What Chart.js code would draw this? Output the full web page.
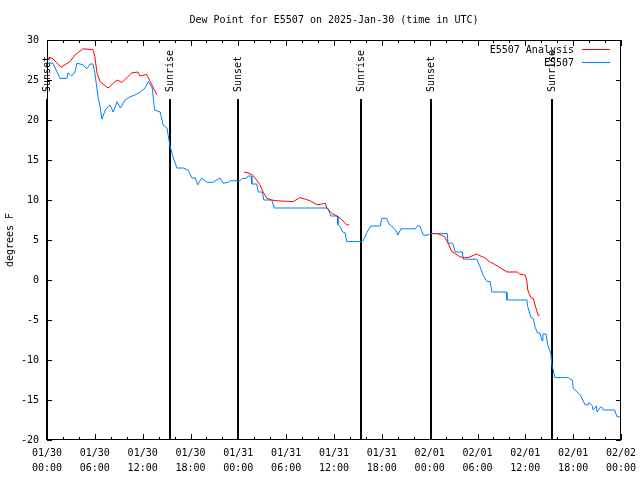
<!DOCTYPE html>
<html>
<head>
<meta charset="utf-8">
<title>Dew Point for E5507</title>
<script src="https://cdn.jsdelivr.net/npm/chart.js@4"></script>
<style>
  html, body { margin: 0; padding: 0; background: #fff; }
  canvas { display: block; }
</style>
</head>
<body>
<canvas id="dewpoint-chart" width="640" height="480"></canvas>
<script>
// hours since 01/30 00:00 UTC
const blueHours = [0, 0.75, 1.63, 2.5, 2.63, 3.1, 3.5, 3.76, 4.5, 5.0, 5.4, 5.77, 6.0, 6.4, 6.65, 6.9, 7.3, 7.9, 8.3, 8.8,
  9.2, 9.8, 10.4, 11.0, 11.7, 12.3, 12.7, 13.2, 13.5, 14.2, 14.55, 15.05, 15.4, 15.8, 16.3, 17.1, 17.7, 18.2, 18.6, 18.9,
  19.4, 20.1, 20.8, 21.7, 22.1, 22.7, 22.95, 24.2, 24.5, 25.0, 25.2, 25.6, 25.7, 26.3, 26.5, 27.0, 27.2, 28.2, 28.5, 35.2,
  35.6, 36.4, 36.5, 36.75, 37.1, 37.4, 37.6, 39.6, 39.9, 40.1, 40.6, 41.8, 42.0, 42.6, 42.9, 43.4, 43.9, 44.0, 44.4, 46.2,
  46.5, 46.8, 47.2, 47.8, 48.0, 50.2, 50.3, 50.9, 51.2, 52.1, 52.2, 53.9, 54.3, 54.7, 55.2, 55.6, 55.8, 57.6, 57.7, 60.2,
  60.3, 60.7, 61.0, 61.2, 61.5, 61.8, 62.1, 62.2, 62.6, 62.8, 63.2, 63.35, 63.5, 63.7, 65.4, 65.6, 65.9, 66.0, 66.5, 66.9,
  67.1, 67.5, 67.9, 68.0, 68.4, 68.5, 68.9, 69.0, 69.4, 69.6, 69.8, 71.2, 71.5, 72.0];
const blueValues = [27.1, 27.1, 25.2, 25.2, 25.9, 25.5, 26.0, 27.1, 26.9, 26.4, 27.0, 27.0, 25.9, 22.9, 21.7, 20.1, 21.25, 21.9, 21.0, 22.3,
  21.5, 22.5, 22.9, 23.1, 23.5, 24.0, 24.8, 24.0, 21.25, 21.0, 19.4, 19.0, 16.9, 15.4, 14.0, 14.0, 13.75, 12.75, 12.75, 11.9,
  12.75, 12.2, 12.2, 12.75, 12.1, 12.2, 12.4, 12.4, 12.7, 12.7, 13.0, 13.0, 12.0, 12.0, 11.0, 11.0, 10.0, 10.0, 9.0, 9.0,
  8.0, 8.0, 6.9, 6.7, 6.0, 5.9, 4.8, 4.8, 5.4, 5.9, 6.75, 6.75, 7.7, 7.7, 7.0, 6.6, 6.0, 5.6, 6.4, 6.4,
  6.8, 6.7, 5.6, 5.6, 5.8, 5.8, 4.6, 4.6, 3.5, 3.5, 2.6, 2.6, 1.7, 0.6, -0.2, -0.2, -1.5, -1.5, -2.5, -2.5,
  -3.3, -4.7, -4.8, -5.8, -6.6, -6.6, -7.6, -6.75, -6.75, -8.1, -9.2, -10.8, -11.2, -12.2, -12.2, -12.4, -12.5, -13.5, -14.0, -14.4,
  -14.8, -15.6, -15.6, -15.3, -15.75, -16.25, -15.75, -16.5, -15.9, -15.9, -16.25, -16.25, -17.1, -17.1];

// analysis series, null = gap between runs
const redHours = [0, 0.63, 1.76, 2.88, 3.5, 4.5, 5.77, 6.0, 6.27, 6.65, 7.65, 8.78, 9.4, 10.66, 11.4, 11.67, 12.5, 13.8,
  19,
  24.7, 25.2, 25.8, 26.3, 26.7, 27.1, 27.6, 28.2, 28.85, 30.9, 31.7, 32.4, 33.0, 33.9, 34.5, 34.9, 35.1, 35.75, 36.4, 37.0, 37.6, 37.9,
  43,
  48.2, 49.0, 49.9, 50.3, 50.8, 51.2, 51.8, 52.4, 52.8, 53.3, 53.9, 54.6, 54.9, 55.6, 55.9, 56.6, 57.2, 57.7, 59.0, 59.3, 60.0,
  60.2, 60.3, 60.7, 61.0, 61.3, 61.6, 61.8];
const redValues = [27.75, 27.75, 26.6, 27.3, 28.1, 28.9, 28.8, 27.9, 25.9, 24.8, 24.0, 25.0, 24.7, 25.9, 26.0, 25.5, 25.7, 23.1,
  null,
  13.5, 13.4, 13.1, 12.5, 11.9, 11.0, 10.2, 10.0, 9.9, 9.8, 10.3, 10.1, 9.9, 9.4, 9.5, 9.6, 9.0, 8.3, 8.0, 7.5, 6.9, 6.9,
  null,
  5.8, 5.8, 5.4, 4.6, 3.5, 3.3, 2.9, 2.8, 2.8, 3.0, 3.25, 2.9, 2.8, 2.2, 2.1, 1.7, 1.3, 1.0, 1.0, 0.75, 0.6,
  -0.2, -1.25, -2.2, -2.3, -3.4, -4.4, -4.4];

const eventHours = [0, 15.43, 23.96, 39.39, 48.17, 63.35];
const eventNames = ["Sunset", "Sunrise", "Sunset", "Sunrise", "Sunset", "Sunrise"];

const xTickLabels = [
  ["01/30", "00:00"], ["01/30", "06:00"], ["01/30", "12:00"], ["01/30", "18:00"],
  ["01/31", "00:00"], ["01/31", "06:00"], ["01/31", "12:00"], ["01/31", "18:00"],
  ["02/01", "00:00"], ["02/01", "06:00"], ["02/01", "12:00"], ["02/01", "18:00"],
  ["02/02", "00:00"]
];

const FONT = "'DejaVu Sans Mono', 'Liberation Mono', monospace";
const RED = "#ff0000";
const BLUE = "#0080ff";

function toPoints(xs, ys) {
  return xs.map((x, i) => ({ x: x, y: ys[i] }));
}

// sunrise / sunset markers, drawn under the data
const eventLines = {
  id: "eventLines",
  beforeDatasetsDraw(chart) {
    const { ctx, chartArea, scales } = chart;
    ctx.save();
    ctx.fillStyle = "#000";
    ctx.font = "10px " + FONT;
    ctx.textBaseline = "middle";
    ctx.textAlign = "left";
    eventHours.forEach((h, i) => {
      const px = Math.round(scales.x.getPixelForValue(h));
      ctx.fillRect(px - 1, 99, 2, chartArea.bottom - 99);
      ctx.save();
      ctx.translate(px, 92);
      ctx.rotate(-Math.PI / 2);
      ctx.fillText(eventNames[i], 0, 0);
      ctx.restore();
    });
    ctx.restore();
  }
};

// gnuplot style frame, inward ticks, title and legend
const frame = {
  id: "frame",
  afterDraw(chart) {
    const { ctx, chartArea, scales } = chart;
    const { left, right, top, bottom } = chartArea;
    ctx.save();
    ctx.strokeStyle = "#000";
    ctx.lineWidth = 1;
    ctx.strokeRect(left + 0.5, top + 0.5, right - left - 1, bottom - top - 1);

    ctx.beginPath();
    for (let h = scales.x.min; h <= scales.x.max; h += 2) {
      const px = Math.round(scales.x.getPixelForValue(h)) + 0.5;
      const len = (h % 6 === 0) ? 6 : 3;
      ctx.moveTo(px, bottom); ctx.lineTo(px, bottom - len);
      ctx.moveTo(px, top); ctx.lineTo(px, top + len);
    }
    scales.y.ticks.forEach(t => {
      const py = Math.round(scales.y.getPixelForValue(t.value)) + 0.5;
      ctx.moveTo(left, py); ctx.lineTo(left + 5, py);
      ctx.moveTo(right, py); ctx.lineTo(right - 5, py);
    });
    ctx.stroke();

    ctx.fillStyle = "#000";
    ctx.font = "10px " + FONT;
    ctx.textAlign = "center";
    ctx.textBaseline = "middle";
    ctx.fillText("Dew Point for E5507 on 2025-Jan-30 (time in UTC)", (left + right) / 2, 20);

    ctx.textAlign = "right";
    chart.data.datasets.forEach((ds, i) => {
      const y = 50 + i * 13;
      ctx.fillText(ds.label, 574, y);
      ctx.strokeStyle = ds.borderColor;
      ctx.beginPath();
      ctx.moveTo(582, y - 0.5);
      ctx.lineTo(610, y - 0.5);
      ctx.stroke();
    });
    ctx.restore();
  }
};

new Chart(document.getElementById("dewpoint-chart"), {
  type: "line",
  data: {
    datasets: [
      {
        label: "E5507 Analysis",
        data: toPoints(redHours, redValues),
        borderColor: RED,
        borderWidth: 1,
        pointRadius: 0,
        tension: 0,
        spanGaps: false
      },
      {
        label: "E5507",
        data: toPoints(blueHours, blueValues),
        borderColor: BLUE,
        borderWidth: 1,
        pointRadius: 0,
        tension: 0
      }
    ]
  },
  options: {
    responsive: false,
    animation: false,
    devicePixelRatio: 1,
    layout: { padding: { top: 40, right: 19, left: 0, bottom: 0 } },
    plugins: {
      legend: { display: false },
      tooltip: { enabled: false },
      title: { display: false }
    },
    scales: {
      x: {
        type: "linear",
        min: 0,
        max: 72,
        grid: { display: false, drawTicks: false },
        border: { display: false },
        afterFit: s => { s.height = 40; s.paddingLeft = 0; s.paddingRight = 0; },
        ticks: {
          stepSize: 6,
          autoSkip: false,
          maxRotation: 0,
          padding: 6,
          color: "#000",
          font: { family: FONT, size: 10, lineHeight: 1.5 },
          callback: (v, i) => xTickLabels[i]
        }
      },
      y: {
        min: -20,
        max: 30,
        grid: { display: false, drawTicks: false },
        border: { display: false },
        afterFit: s => { s.width = 47; s.paddingTop = 0; s.paddingBottom = 0; },
        title: {
          display: true,
          text: "degrees F",
          color: "#000",
          font: { family: FONT, size: 10 },
          padding: { top: 4, bottom: 0 }
        },
        ticks: {
          stepSize: 5,
          padding: 8,
          color: "#000",
          font: { family: FONT, size: 10 }
        }
      }
    }
  },
  plugins: [eventLines, frame]
});
</script>
</body>
</html>
